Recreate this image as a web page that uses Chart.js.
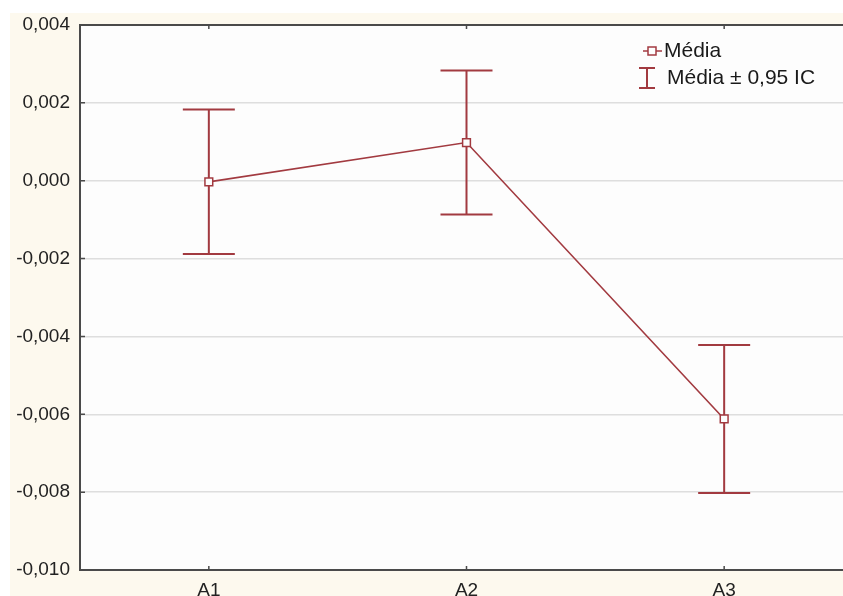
<!DOCTYPE html>
<html>
<head>
<meta charset="utf-8">
<script src="https://cdn.jsdelivr.net/npm/chart.js@4.4.1/dist/chart.umd.min.js"></script>
<style>
  html, body { margin: 0; padding: 0; background: #ffffff; overflow: hidden; width: 843px; height: 596px; }
  #frame { position: absolute; left: 10px; top: 13px; width: 850px; height: 600px; background: #fdf9ee; }
  canvas { display: block; }
</style>
</head>
<body>
<div id="frame"><canvas id="chart" width="850" height="600"></canvas></div>
<script>
// Group means with 95% confidence limits
const categories = ['A1', 'A2', 'A3'];
const means = [-0.00003, 0.00098, -0.00612];
const upperCI = [0.00183, 0.00283, -0.00422];
const lowerCI = [-0.00188, -0.00087, -0.00802];
const yTicks = [-0.010, -0.008, -0.006, -0.004, -0.002, 0.000, 0.002, 0.004];
const legendLabels = ['Média', 'Média ± 0,95 IC'];

const RED = '#a23a40';
const AXIS = '#4a4a4a';
const FONT = '"Liberation Sans", Arial, sans-serif';

function fmt(v) {
  let s = Math.abs(v) < 1e-9 ? '0.000' : v.toFixed(3);
  return s.replace('.', ',');
}

const decorations = {
  id: 'decorations',
  beforeDraw(chart) {
    const { ctx, chartArea: a } = chart;
    ctx.save();
    ctx.fillStyle = '#fdfdfd';
    ctx.fillRect(a.left, a.top, chart.width - a.left, a.bottom - a.top);
    ctx.restore();
  },
  beforeDatasetsDraw(chart) {
    // confidence interval whiskers
    const { ctx } = chart;
    const x = chart.scales.x, y = chart.scales.y;
    ctx.save();
    ctx.strokeStyle = RED;
    ctx.lineWidth = 2;
    const cap = 26;
    categories.forEach((c, i) => {
      const px = x.getPixelForValue(i);
      const yu = y.getPixelForValue(upperCI[i]);
      const yl = y.getPixelForValue(lowerCI[i]);
      ctx.beginPath();
      ctx.moveTo(px, yu); ctx.lineTo(px, yl);
      ctx.moveTo(px - cap, yu); ctx.lineTo(px + cap, yu);
      ctx.moveTo(px - cap, yl); ctx.lineTo(px + cap, yl);
      ctx.stroke();
    });
    ctx.restore();
  },
  afterDraw(chart) {
    const { ctx, chartArea: a } = chart;
    const x = chart.scales.x, y = chart.scales.y;
    ctx.save();
    // frame lines: left, bottom, top
    ctx.strokeStyle = AXIS;
    ctx.lineWidth = 2;
    ctx.beginPath();
    ctx.moveTo(a.left, a.top); ctx.lineTo(chart.width, a.top);
    ctx.moveTo(a.left, a.top - 1); ctx.lineTo(a.left, a.bottom + 1);
    ctx.moveTo(a.left, a.bottom); ctx.lineTo(chart.width, a.bottom);
    ctx.stroke();
    // inward tick marks
    ctx.lineWidth = 1.5;
    ctx.beginPath();
    yTicks.forEach(v => {
      const py = y.getPixelForValue(v);
      ctx.moveTo(a.left, py); ctx.lineTo(a.left + 5, py);
    });
    categories.forEach((c, i) => {
      const px = x.getPixelForValue(i);
      ctx.moveTo(px, a.bottom); ctx.lineTo(px, a.bottom - 4);
      ctx.moveTo(px, a.top); ctx.lineTo(px, a.top + 4);
    });
    ctx.stroke();

    // legend
    const lx = 642, ly1 = a.top + 26, ly2 = a.top + 53;
    ctx.strokeStyle = RED;
    ctx.lineWidth = 1.5;
    ctx.beginPath();
    ctx.moveTo(lx - 9, ly1); ctx.lineTo(lx + 10, ly1);
    ctx.stroke();
    ctx.fillStyle = '#fdfdfd';
    ctx.fillRect(lx - 4, ly1 - 4, 8, 8);
    ctx.strokeRect(lx - 4, ly1 - 4, 8, 8);
    ctx.lineWidth = 2;
    ctx.beginPath();
    ctx.moveTo(lx - 5, ly2 - 10); ctx.lineTo(lx - 5, ly2 + 10);
    ctx.moveTo(lx - 13, ly2 - 10); ctx.lineTo(lx + 3, ly2 - 10);
    ctx.moveTo(lx - 13, ly2 + 10); ctx.lineTo(lx + 3, ly2 + 10);
    ctx.stroke();
    ctx.fillStyle = '#1a1a1a';
    ctx.font = '21px ' + FONT;
    ctx.textBaseline = 'middle';
    ctx.textAlign = 'left';
    ctx.fillText(legendLabels[0], lx + 12, ly1);
    ctx.fillText(legendLabels[1], lx + 15, ly2);
    ctx.restore();
  }
};

new Chart(document.getElementById('chart'), {
  type: 'line',
  data: {
    labels: categories,
    datasets: [{
      label: legendLabels[0],
      data: means,
      borderColor: RED,
      borderWidth: 1.6,
      pointStyle: 'rect',
      pointRadius: 5.5,
      pointBorderWidth: 1.5,
      pointBackgroundColor: '#fdfdfd',
      pointBorderColor: RED,
      tension: 0
    }]
  },
  options: {
    responsive: false,
    animation: false,
    layout: { padding: { top: 12, right: 5, left: 0, bottom: 0 } },
    plugins: { legend: { display: false }, tooltip: { enabled: false } },
    scales: {
      x: {
        type: 'category',
        offset: true,
        grid: { display: false, drawTicks: false },
        border: { display: false },
        ticks: { color: '#222', font: { family: FONT, size: 19 }, padding: 9 },
        afterFit(s) {
          s.height = 43;
          s.paddingLeft = 0; s.paddingRight = 0;
        }
      },
      y: {
        min: -0.010,
        max: 0.004,
        afterBuildTicks(s) { s.ticks = yTicks.map(v => ({ value: v })); },
        grid: { color: '#dedede', lineWidth: 1.5, drawTicks: false },
        border: { display: false },
        ticks: {
          color: '#222',
          font: { family: FONT, size: 19 },
          padding: 10,
          callback: v => fmt(v)
        },
        afterFit(s) {
          s.width = 70;
          s.paddingTop = 0; s.paddingBottom = 0;
        }
      }
    }
  },
  plugins: [decorations]
});
</script>
</body>
</html>
